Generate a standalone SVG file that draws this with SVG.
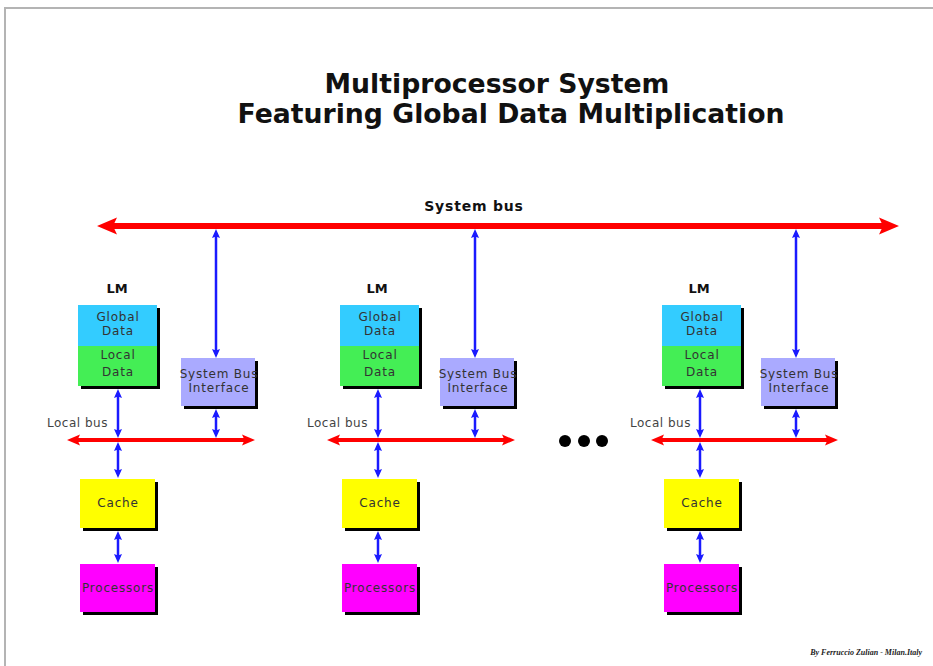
<svg xmlns="http://www.w3.org/2000/svg" width="933" height="666" viewBox="0 0 933 666">
  <defs>
    <style>
      .title { font-family: "DejaVu Sans", sans-serif; font-weight: bold; font-size: 26.7px; fill: #111; text-anchor: middle; }
      .lbl { font-family: "DejaVu Sans", sans-serif; font-weight: bold; font-size: 13px; fill: #111; text-anchor: middle; }
      .bus-lbl { font-family: "DejaVu Sans", sans-serif; font-weight: bold; font-size: 14px; letter-spacing: 0.8px; fill: #111; text-anchor: middle; }
      .box-text { font-family: "DejaVu Sans", sans-serif; font-size: 12px; letter-spacing: 0.8px; fill: #333; text-anchor: middle; }
      .small { font-family: "DejaVu Sans", sans-serif; font-size: 12px; letter-spacing: 0.5px; fill: #444; }
      .shadow { fill: #000; }
      .gdata { fill: #33ccff; }
      .ldata { fill: #44ee55; }
      .sbi { fill: #aaaaff; }
      .cache { fill: #ffff00; }
      .proc { fill: #ff00ff; }
      .sysbus { stroke: #ff0000; stroke-width: 6; fill: none; marker-start: url(#bigHead); marker-end: url(#bigHead); }
      .locbus { stroke: #ff0000; stroke-width: 4; fill: none; marker-start: url(#midHead); marker-end: url(#midHead); }
      .link { stroke: #1a1aff; stroke-width: 2.5; fill: none; marker-start: url(#blueHead); marker-end: url(#blueHead); }
    </style>
    <marker id="bigHead" markerUnits="userSpaceOnUse" viewBox="0 0 22 20" markerWidth="22" markerHeight="20" refX="12" refY="10" orient="auto-start-reverse">
      <path d="M0,1.5 L20,10 L0,18.5 L4,10 z" fill="#ff0000"/>
    </marker>
    <marker id="midHead" markerUnits="userSpaceOnUse" viewBox="0 0 14 14" markerWidth="14" markerHeight="14" refX="7" refY="7" orient="auto-start-reverse">
      <path d="M0,1.5 L13,7 L0,12.5 L2.5,7 z" fill="#ff0000"/>
    </marker>
    <marker id="blueHead" markerUnits="userSpaceOnUse" viewBox="0 0 10 10" markerWidth="10" markerHeight="10" refX="5" refY="5" orient="auto-start-reverse">
      <path d="M0,1 L9,5 L0,9 L1.5,5 z" fill="#1a1aff"/>
    </marker>
  </defs>

  <rect width="933" height="666" fill="#ffffff"/>
  <!-- page frame -->
  <path d="M5,666 L5,8 L933,8" fill="none" stroke="#b4b4b4" stroke-width="2"/>

  <!-- title -->
  <text class="title" x="497" y="93">Multiprocessor System</text>
  <text class="title" x="511" y="123">Featuring Global Data Multiplication</text>

  <!-- system bus -->
  <g id="system-bus">
    <text class="bus-lbl" x="474" y="211">System bus</text>
  </g>

  <!-- connectors -->
  <g id="connectors">
    <line class="sysbus" x1="105" y1="226" x2="891" y2="226"/>

    <!-- module 1 -->
    <line class="locbus" x1="73" y1="440" x2="249" y2="440"/>
    <line class="link" x1="216" y1="233" x2="216" y2="354"/>
    <line class="link" x1="216" y1="413" x2="216" y2="434"/>
    <line class="link" x1="118" y1="393" x2="118" y2="434"/>
    <line class="link" x1="118" y1="446" x2="118" y2="474"/>
    <line class="link" x1="118" y1="535" x2="118" y2="559"/>

    <!-- module 2 -->
    <line class="locbus" x1="333" y1="440" x2="509" y2="440"/>
    <line class="link" x1="475" y1="233" x2="475" y2="354"/>
    <line class="link" x1="475" y1="413" x2="475" y2="434"/>
    <line class="link" x1="378" y1="393" x2="378" y2="434"/>
    <line class="link" x1="378" y1="446" x2="378" y2="474"/>
    <line class="link" x1="378" y1="535" x2="378" y2="559"/>

    <!-- module 3 -->
    <line class="locbus" x1="657" y1="440" x2="832" y2="440"/>
    <line class="link" x1="796" y1="233" x2="796" y2="354"/>
    <line class="link" x1="796" y1="413" x2="796" y2="434"/>
    <line class="link" x1="700" y1="393" x2="700" y2="434"/>
    <line class="link" x1="700" y1="446" x2="700" y2="474"/>
    <line class="link" x1="700" y1="535" x2="700" y2="559"/>
  </g>

  <!-- module 1 nodes -->
  <g id="lm-1">
    <text class="lbl" x="117" y="293">LM</text>
    <rect class="shadow" x="81" y="308" width="79" height="81"/>
    <rect class="gdata" x="78" y="305" width="79" height="41"/>
    <rect class="ldata" x="78" y="346" width="79" height="40"/>
    <text class="box-text" x="118" y="321">Global</text>
    <text class="box-text" x="118" y="335">Data</text>
    <text class="box-text" x="118" y="359">Local</text>
    <text class="box-text" x="118" y="376">Data</text>
  </g>
  <g id="sbi-1">
    <rect class="shadow" x="184" y="361" width="74" height="48"/>
    <rect class="sbi" x="181" y="358" width="74" height="48"/>
    <text class="box-text" x="219" y="378">System Bus</text>
    <text class="box-text" x="219" y="392">Interface</text>
  </g>
  <g id="localbus-label-1">
    <text class="small" x="47" y="427">Local bus</text>
  </g>
  <g id="cache-1">
    <rect class="shadow" x="83" y="482" width="75" height="49"/>
    <rect class="cache" x="80" y="479" width="75" height="49"/>
    <text class="box-text" x="118" y="507">Cache</text>
  </g>
  <g id="proc-1">
    <rect class="shadow" x="83" y="567" width="75" height="48"/>
    <rect class="proc" x="80" y="564" width="75" height="48"/>
    <text class="box-text" x="118" y="592">Processors</text>
  </g>

  <!-- module 2 nodes -->
  <g id="lm-2">
    <text class="lbl" x="377" y="293">LM</text>
    <rect class="shadow" x="343" y="308" width="79" height="81"/>
    <rect class="gdata" x="340" y="305" width="79" height="41"/>
    <rect class="ldata" x="340" y="346" width="79" height="40"/>
    <text class="box-text" x="380" y="321">Global</text>
    <text class="box-text" x="380" y="335">Data</text>
    <text class="box-text" x="380" y="359">Local</text>
    <text class="box-text" x="380" y="376">Data</text>
  </g>
  <g id="sbi-2">
    <rect class="shadow" x="443" y="361" width="74" height="48"/>
    <rect class="sbi" x="440" y="358" width="74" height="48"/>
    <text class="box-text" x="478" y="378">System Bus</text>
    <text class="box-text" x="478" y="392">Interface</text>
  </g>
  <g id="localbus-label-2">
    <text class="small" x="307" y="427">Local bus</text>
  </g>
  <g id="cache-2">
    <rect class="shadow" x="345" y="482" width="75" height="49"/>
    <rect class="cache" x="342" y="479" width="75" height="49"/>
    <text class="box-text" x="380" y="507">Cache</text>
  </g>
  <g id="proc-2">
    <rect class="shadow" x="345" y="567" width="75" height="48"/>
    <rect class="proc" x="342" y="564" width="75" height="48"/>
    <text class="box-text" x="380" y="592">Processors</text>
  </g>

  <!-- ellipsis between modules -->
  <g id="more">
    <circle cx="565" cy="441" r="6" fill="#000"/>
    <circle cx="584" cy="441" r="6" fill="#000"/>
    <circle cx="602" cy="441" r="6" fill="#000"/>
  </g>

  <!-- module 3 nodes -->
  <g id="lm-3">
    <text class="lbl" x="699" y="293">LM</text>
    <rect class="shadow" x="665" y="308" width="79" height="81"/>
    <rect class="gdata" x="662" y="305" width="79" height="41"/>
    <rect class="ldata" x="662" y="346" width="79" height="40"/>
    <text class="box-text" x="702" y="321">Global</text>
    <text class="box-text" x="702" y="335">Data</text>
    <text class="box-text" x="702" y="359">Local</text>
    <text class="box-text" x="702" y="376">Data</text>
  </g>
  <g id="sbi-3">
    <rect class="shadow" x="764" y="361" width="74" height="48"/>
    <rect class="sbi" x="761" y="358" width="74" height="48"/>
    <text class="box-text" x="799" y="378">System Bus</text>
    <text class="box-text" x="799" y="392">Interface</text>
  </g>
  <g id="localbus-label-3">
    <text class="small" x="630" y="427">Local bus</text>
  </g>
  <g id="cache-3">
    <rect class="shadow" x="667" y="482" width="75" height="49"/>
    <rect class="cache" x="664" y="479" width="75" height="49"/>
    <text class="box-text" x="702" y="507">Cache</text>
  </g>
  <g id="proc-3">
    <rect class="shadow" x="667" y="567" width="75" height="48"/>
    <rect class="proc" x="664" y="564" width="75" height="48"/>
    <text class="box-text" x="702" y="592">Processors</text>
  </g>

  <!-- credit -->
  <text x="922" y="655" text-anchor="end" font-family="'Liberation Serif', serif" font-style="italic" font-weight="bold" font-size="8" fill="#222">By Ferruccio Zulian - Milan.Italy</text>
</svg>
